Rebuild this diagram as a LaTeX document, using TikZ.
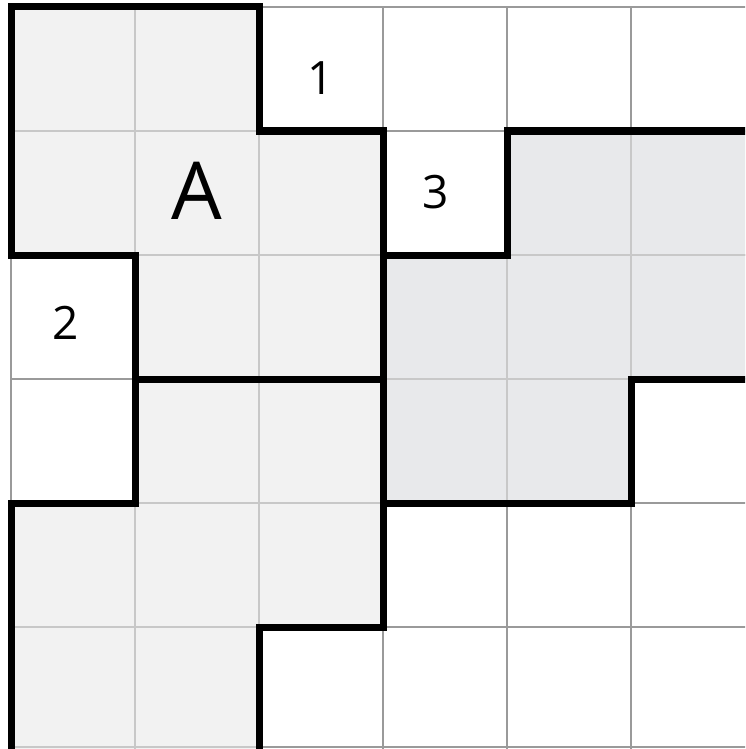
\documentclass[tikz,border=0pt]{standalone}
\usepackage{fontspec}
\setmainfont{Open Sans}
\definecolor{shapeA}{HTML}{F2F2F2}
\definecolor{shapeB}{HTML}{E8E9EB}
\definecolor{gridW}{HTML}{9A9A9A}
\definecolor{gridG}{HTML}{C8C8C8}
\tikzset{
  thickline/.style={line width=7pt, line join=miter, line cap=rect},
  thinW/.style={draw=gridW, line width=1.5pt},
  thinG/.style={draw=gridG, line width=1.5pt},
  num/.style={font=\fontsize{46}{46}\selectfont, inner sep=0pt},
  big/.style={font=\fontsize{80}{80}\selectfont, inner sep=0pt}
}
\begin{document}
\begin{tikzpicture}[x=1pt,y=-1pt]
\useasboundingbox (0,0) rectangle (745,749);
\clip (0,0) rectangle (745,749);
\fill[white] (0,0) rectangle (745,749);
% fills
\fill[shapeA] (11,7) -- (259,7) -- (259,131) -- (383,131) -- (383,627) -- (259,627) -- (259,760) -- (11,760) -- (11,503) -- (135,503) -- (135,255) -- (11,255) -- cycle;
\fill[shapeB] (383,255) -- (507,255) -- (507,131) -- (760,131) -- (760,379) -- (631,379) -- (631,503) -- (383,503) -- cycle;
% grid in white areas
\foreach \x in {11,135,259,383,507,631} \draw[thinW] (\x,7) -- (\x,749);
\foreach \y in {7,131,255,379,503,627,747} \draw[thinW] (11,\y) -- (760,\y);
% grid in gray areas
\begin{scope}
\clip (11,7) -- (259,7) -- (259,131) -- (383,131) -- (383,627) -- (259,627) -- (259,760) -- (11,760) -- (11,503) -- (135,503) -- (135,255) -- (11,255) -- cycle;
\foreach \x in {135,259,383} \draw[thinG] (\x,7) -- (\x,749);
\foreach \y in {131,255,379,503,627,747} \draw[thinG] (11,\y) -- (383,\y);
\end{scope}
\begin{scope}
\clip (383,255) -- (507,255) -- (507,131) -- (760,131) -- (760,379) -- (631,379) -- (631,503) -- (383,503) -- cycle;
\foreach \x in {507,631} \draw[thinG] (\x,131) -- (\x,503);
\foreach \y in {255,379} \draw[thinG] (383,\y) -- (760,\y);
\end{scope}
% thick outlines
\draw[thickline] (11,760) -- (11,503) -- (135,503) -- (135,255) -- (11,255) -- (11,7) -- (259,7) -- (259,131) -- (383,131) -- (383,627) -- (259,627) -- (259,760);
\draw[thickline] (135,379) -- (383,379);
\draw[thickline] (760,131) -- (507,131) -- (507,255) -- (383,255);
\draw[thickline] (760,379) -- (631,379) -- (631,503) -- (383,503);
% labels
\node[num] (n1) at (321,78) {1};
\node[num] (n2) at (66,323) {2};
\node[num] (n3) at (436,192) {3};
\node[big] (nA) at (197,191) {A};
\end{tikzpicture}
\end{document}
